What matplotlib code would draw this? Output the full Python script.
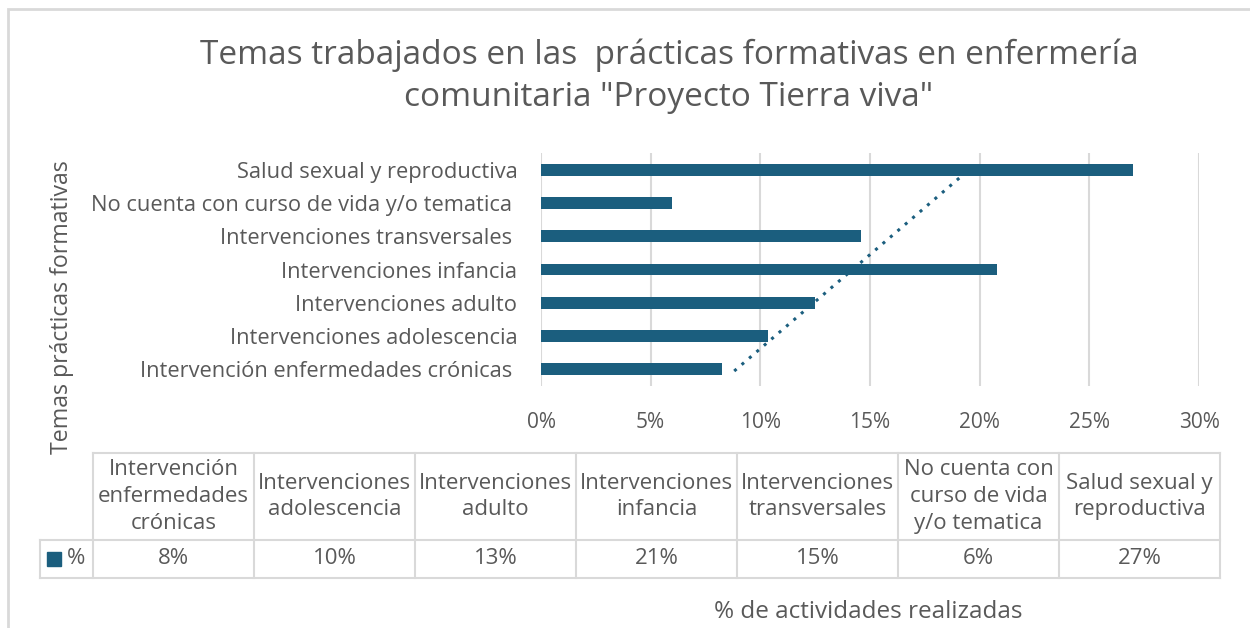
import matplotlib.pyplot as plt
import numpy as np
from matplotlib.patches import Rectangle

# Data
categories = [
    "Intervención enfermedades crónicas ",
    "Intervenciones adolescencia",
    "Intervenciones adulto",
    "Intervenciones infancia",
    "Intervenciones transversales ",
    "No cuenta con curso de vida y/o tematica ",
    "Salud sexual y reproductiva",
]
table_labels = [
    "Intervención\nenfermedades\ncrónicas",
    "Intervenciones\nadolescencia",
    "Intervenciones\nadulto",
    "Intervenciones\ninfancia",
    "Intervenciones\ntransversales",
    "No cuenta con\ncurso de vida\ny/o tematica",
    "Salud sexual y\nreproductiva",
]
values = [8.25, 10.35, 12.5, 20.8, 14.6, 5.95, 27.0]
xticks = [0, 5, 10, 15, 20, 25, 30]

bar_color = "#1b5e7e"
text_color = "#595959"
grid_color = "#d9d9d9"

plt.rcParams["font.family"] = ["Open Sans", "DejaVu Sans"]

W, H = 1250, 628
fig = plt.figure(figsize=(W / 100, H / 100), dpi=100)

# outer frame of the chart area
fig.patches.append(Rectangle((8 / W, -0.1), 1.2, 1 - 9 / H + 0.1, transform=fig.transFigure,
                             fill=False, edgecolor="#d9d9d9", linewidth=2))

fig.text(669 / W, 1 - 55 / H, "Temas trabajados en las  prácticas formativas en enfermería",
         ha="center", va="center", fontsize=24, color=text_color)
fig.text(669 / W, 1 - 98 / H, 'comunitaria "Proyecto Tierra viva"',
         ha="center", va="center", fontsize=24, color=text_color)

# main bar axes
ax = fig.add_axes([541 / W, 1 - 386 / H, (1199 - 541) / W, (386 - 153) / H])
y = np.arange(len(categories))
ax.barh(y, values, height=0.36, color=bar_color, zorder=3)

# linear trendline (dotted)
coef = np.polyfit(y, values, 1)
ty = np.linspace(-0.05, 5.75, 50)
ax.plot(np.polyval(coef, ty), ty, linestyle=(0, (1, 2.2)), color=bar_color,
        linewidth=2.2, zorder=4)

ax.set_xlim(0, 30)
ax.set_ylim(-0.5, len(categories) - 0.5)
ax.set_xticks(xticks)
ax.set_xticklabels([f"{t}%" for t in xticks])
ax.set_yticks(y)
ax.set_yticklabels(categories)
ax.tick_params(axis="x", length=0, pad=19, labelsize=15, labelcolor=text_color)
ax.tick_params(axis="y", length=0, pad=17, labelsize=15.75, labelcolor=text_color)
ax.grid(True, axis="x", color=grid_color, linewidth=1.5, zorder=0)
for s in ax.spines.values():
    s.set_visible(False)

fig.text(62 / W, 1 - 307 / H, "Temas prácticas formativas", rotation=90,
         ha="center", va="center", fontsize=16.7, color=text_color)

# data table under the chart
tab = fig.add_axes([93 / W, 1 - 578 / H, (1220 - 93) / W, (578 - 453) / H])
tab.set_xlim(0, len(categories))
tab.set_ylim(0, 125)
tab.axis("off")
row_h = 38
lw = 1.5
left_ext = -(93 - 40) / 161
for i in range(len(categories) + 1):
    tab.plot([i, i], [0, 125], color=grid_color, linewidth=lw, clip_on=False)
tab.plot([left_ext, left_ext], [0, row_h], color=grid_color, linewidth=lw, clip_on=False)
tab.plot([0, len(categories)], [125, 125], color=grid_color, linewidth=lw, clip_on=False)
tab.plot([left_ext, len(categories)], [row_h, row_h], color=grid_color, linewidth=lw, clip_on=False)
tab.plot([left_ext, len(categories)], [0, 0], color=grid_color, linewidth=lw, clip_on=False)
for i, (lab, v) in enumerate(zip(table_labels, values)):
    tab.text(i + 0.5, (125 + row_h) / 2, lab, ha="center", va="center",
             fontsize=16, color=text_color, linespacing=1.35)
    tab.text(i + 0.5, row_h / 2, f"{int(np.floor(v + 0.5))}%", ha="center", va="center",
             fontsize=16, color=text_color)
tab.plot([left_ext * 0.74], [row_h / 2], marker="s", markersize=10, color=bar_color, clip_on=False)
tab.text(left_ext * 0.5, row_h / 2, "%", ha="left", va="center", fontsize=16, color=text_color)

fig.text(868 / W, 1 - 612 / H, "% de actividades realizadas", ha="center", va="center",
         fontsize=17.5, color=text_color)

fig.savefig("out.png", dpi=100)
